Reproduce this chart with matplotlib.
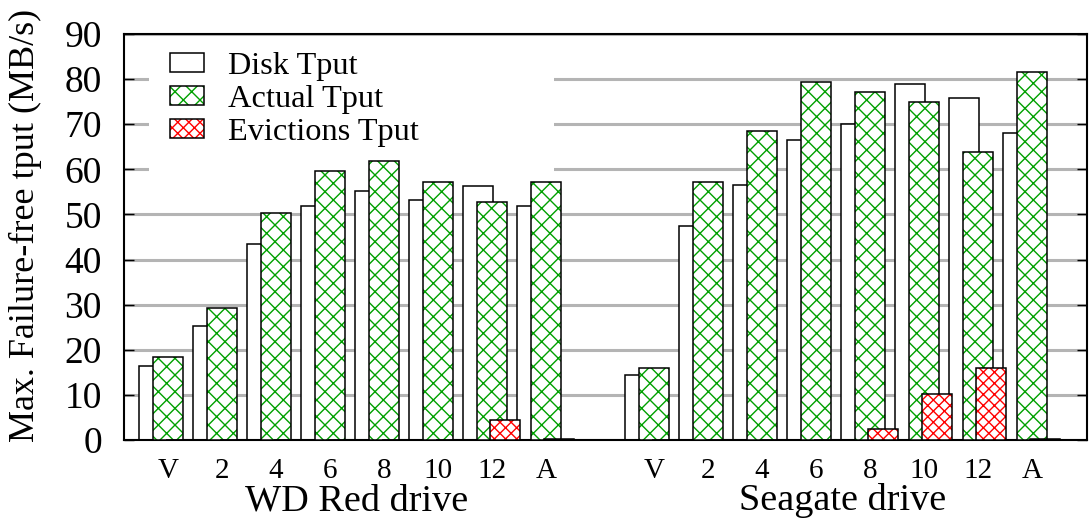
import numpy as np
import matplotlib.pyplot as plt
from matplotlib.patches import Patch
from matplotlib.transforms import blended_transform_factory

plt.rcParams['font.family'] = ['Liberation Serif', 'DejaVu Serif']
plt.rcParams['hatch.linewidth'] = 1.0

configs = ["V", "2", "4", "6", "8", "10", "12", "A"]
drives = ["WD Red drive", "Seagate drive"]
series = ["Disk Tput", "Actual Tput", "Evictions Tput"]

wd_disk = [16.4, 25.3, 43.4, 51.9, 55.1, 53.1, 56.4, 51.8]
wd_actual = [18.3, 29.2, 50.4, 59.6, 61.9, 57.3, 52.8, 57.3]
wd_evict = [0, 0, 0, 0, 0, 0, 4.4, 0.3]

sg_disk = [14.3, 47.5, 56.6, 66.4, 70.1, 78.9, 75.8, 68.1]
sg_actual = [15.9, 57.3, 68.4, 79.4, 77.2, 75.0, 63.9, 81.6]
sg_evict = [0, 0, 0, 0, 2.5, 10.3, 15.9, 0.3]

green = "#00a000"
red = "#ff0000"
width = 0.556
shift = 0.25

fig = plt.figure(figsize=(10.89, 5.22), dpi=100)
ax = fig.add_axes([124 / 1089, 1 - 440 / 522, 963 / 1089, 406 / 522])

pos_wd = np.arange(len(configs))
pos_sg = np.arange(len(configs)) + len(configs) + 1

for pos, disk, actual, evict in [(pos_wd, wd_disk, wd_actual, wd_evict),
                                 (pos_sg, sg_disk, sg_actual, sg_evict)]:
    ax.bar(pos - shift, disk, width, color="white", edgecolor="black", lw=1.1, zorder=2)
    ax.bar(pos, actual, width, color="white", edgecolor=green, lw=0, hatch="xx", zorder=3)
    ax.bar(pos, actual, width, fill=False, edgecolor="black", lw=1.1, zorder=3.1)
    ax.bar(pos + shift, evict, width, color="white", edgecolor=red, lw=0, hatch="xxx", zorder=4)
    ax.bar(pos + shift, evict, width, fill=False, edgecolor="black", lw=1.1, zorder=4.1)

ax.set_ylim(0, 90)
ax.set_xlim(-0.815, pos_sg[-1] + 1.02)
ax.set_yticks(np.arange(0, 91, 10))
ax.set_xticks(np.concatenate([pos_wd, pos_sg]))
ax.set_xticklabels(configs + configs, fontsize=21)
ax.tick_params(axis="x", length=0, pad=13)
ax.tick_params(axis="y", direction="in", right=True, length=7, width=1.0, labelsize=27, pad=16)

ax.yaxis.grid(True, color="#b4b4b4", lw=2.2)
ax.set_axisbelow(True)
for s in ax.spines.values():
    s.set_linewidth(1.5)

# white area behind the key, as in the original
ax.axhspan(52, 88, xmin=0.026, xmax=0.4465, color="white", lw=0, zorder=1.5)

handles = [
    Patch(facecolor="white", edgecolor="black", lw=1.1),
    (Patch(facecolor="white", edgecolor=green, lw=0, hatch="xx"),
     Patch(fill=False, edgecolor="black", lw=1.1)),
    (Patch(facecolor="white", edgecolor=red, lw=0, hatch="xxx"),
     Patch(fill=False, edgecolor="black", lw=1.1)),
]
ax.legend(handles, series, loc="upper left", bbox_to_anchor=(170 / 1089, 1 - 52 / 522),
          bbox_transform=fig.transFigure, frameon=False, fontsize=23.3,
          handlelength=1.05, handleheight=0.55, handletextpad=0.75,
          labelspacing=0.12, borderpad=0, borderaxespad=0)

trans = blended_transform_factory(ax.transData, fig.transFigure)
fig.text((pos_wd[0] + pos_wd[-1]) / 2, 1 - 501 / 522, drives[0], transform=trans,
         ha="center", va="center", fontsize=27.5)
fig.text((pos_sg[0] + pos_sg[-1]) / 2, 1 - 501 / 522, drives[1], transform=trans,
         ha="center", va="center", fontsize=27.5)

fig.text(25 / 1089, 1 - 225 / 522, "Max. Failure-free tput (MB/s)", rotation=90,
         ha="center", va="center", fontsize=26)

fig.savefig("out.png", dpi=100)
